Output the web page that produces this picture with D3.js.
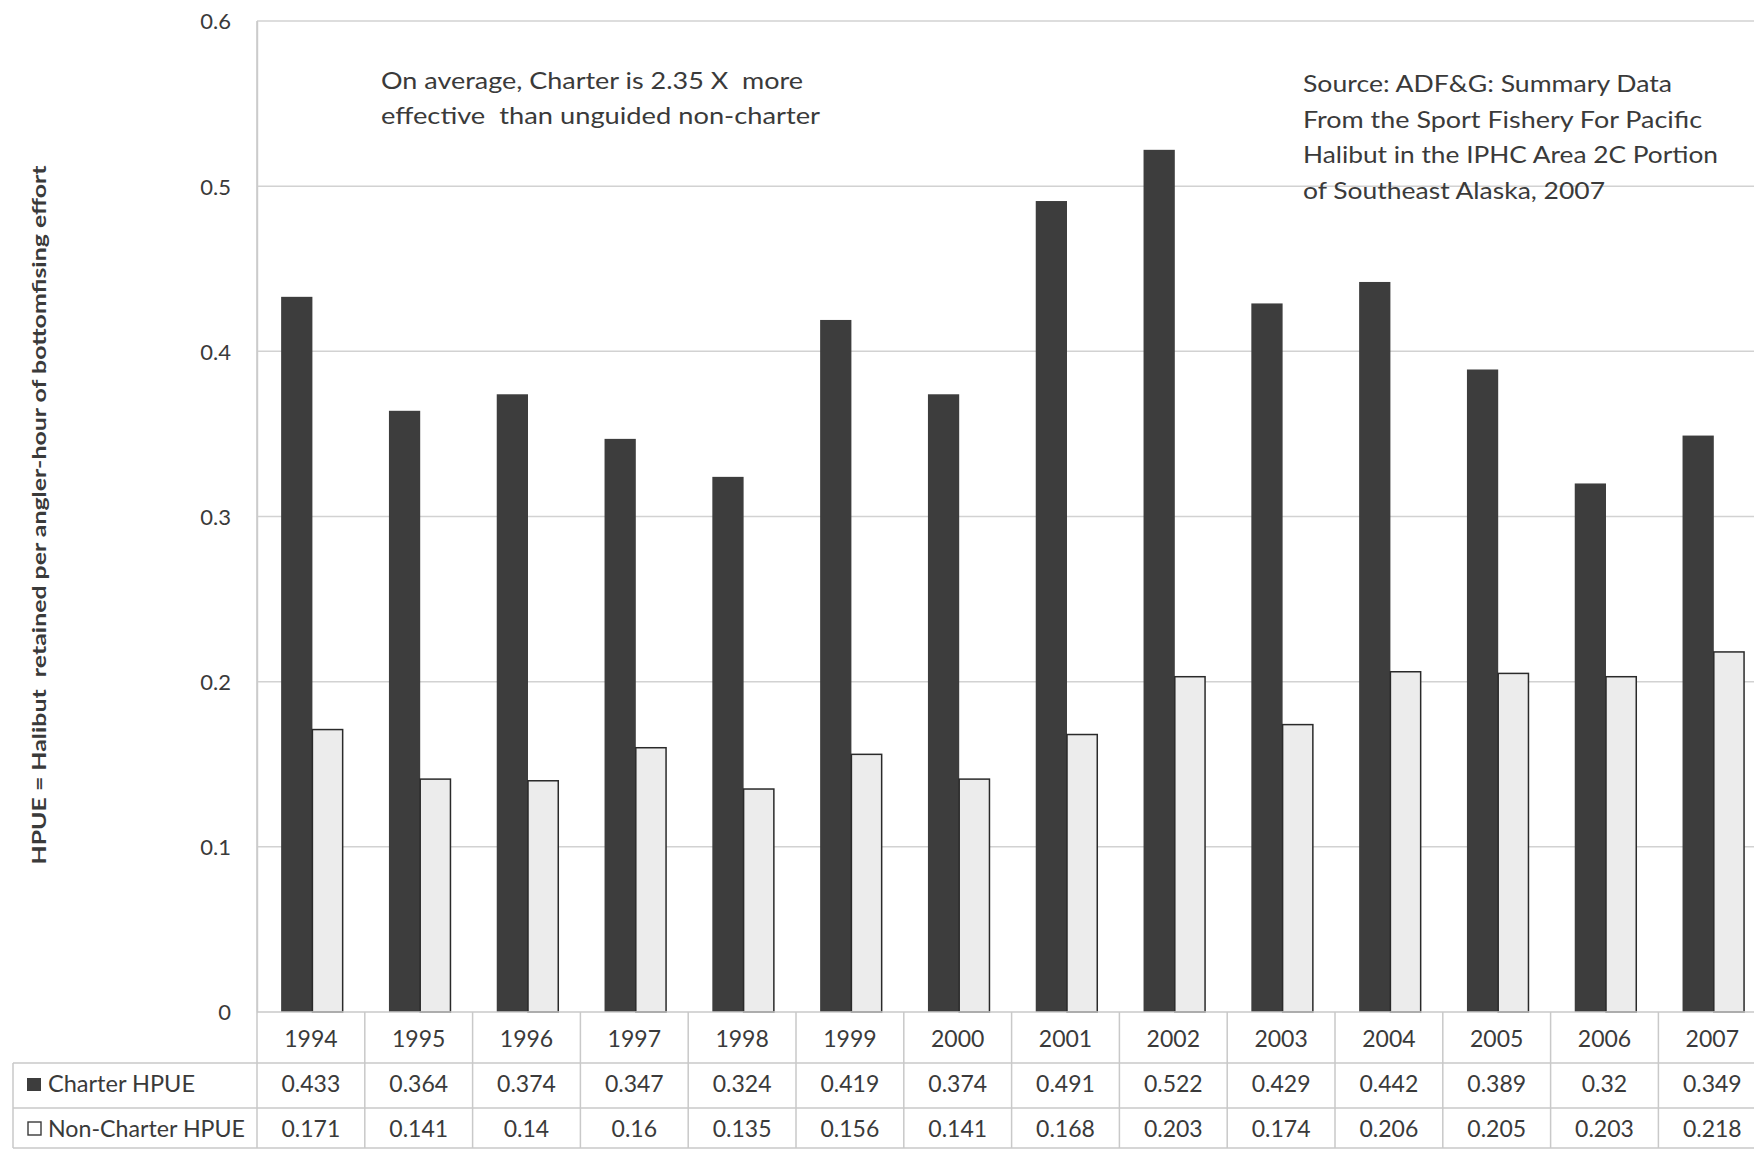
<!DOCTYPE html>
<html>
<head>
<meta charset="utf-8">
<script src="https://cdn.jsdelivr.net/npm/d3@7"></script>
<style>
  html, body { margin: 0; padding: 0; background: #ffffff; }
  svg { display: block; }
  text { font-family: Lato, "Open Sans", "Noto Sans", sans-serif; fill: #3a3a3a; white-space: pre; }
</style>
</head>
<body>
<svg id="chart" width="1754" height="1150"></svg>
<script>
// ---------------- data ----------------
const years = ["1994","1995","1996","1997","1998","1999","2000","2001","2002","2003","2004","2005","2006","2007"];
const charterHPUE = [0.433,0.364,0.374,0.347,0.324,0.419,0.374,0.491,0.522,0.429,0.442,0.389,0.32,0.349];
const nonCharterHPUE = [0.171,0.141,0.14,0.16,0.135,0.156,0.141,0.168,0.203,0.174,0.206,0.205,0.203,0.218];
const seriesNames = ["Charter HPUE","Non-Charter HPUE"];
const yTickValues = [0,0.1,0.2,0.3,0.4,0.5,0.6];
const yTickLabels = ["0","0.1","0.2","0.3","0.4","0.5","0.6"];
const yAxisTitle = "HPUE = Halibut  retained per angler-hour of bottomfising effort";
const noteLines = ["On average, Charter is 2.35 X  more","effective  than unguided non-charter"];
const sourceLines = ["Source: ADF&G: Summary Data","From the Sport Fishery For Pacific","Halibut in the IPHC Area 2C Portion","of Southeast Alaska, 2007"];

// ---------------- layout ----------------
const svg = d3.select("#chart");
const plotLeft = 257, bandW = 107.8;
const plotRight = plotLeft + bandW * years.length;
const plotTop = 21, plotBottom = 1012;
const tableLeft = 13;
const rowYear = [1012, 1063], rowCharter = [1063, 1108], rowNon = [1108, 1148];
const gridColor = "#d2d2d2", tableColor = "#c9c9c9";
const darkFill = "#3d3d3d", lightFill = "#ececec", lightStroke = "#2a2a2a";

const x = d3.scaleBand().domain(years).range([plotLeft, plotRight]).padding(0);
const groupW = x.bandwidth() * 0.58;
const x1 = d3.scaleBand().domain(seriesNames)
  .range([(x.bandwidth() - groupW) / 2 + 1.5, (x.bandwidth() + groupW) / 2 + 1.5]).padding(0);
const y = d3.scaleLinear().domain([0, 0.6]).range([plotBottom, plotTop]);

// gridlines
svg.append("g").selectAll("line").data(yTickValues.filter(v => v > 0)).join("line")
  .attr("x1", plotLeft).attr("x2", plotRight)
  .attr("y1", d => y(d)).attr("y2", d => y(d))
  .attr("stroke", gridColor).attr("stroke-width", 1.5);

// y axis (labels only)
const yAxis = d3.axisLeft(y).tickValues(yTickValues)
  .tickFormat((d, i) => yTickLabels[i]).tickSize(0).tickPadding(26);
const yg = svg.append("g").attr("transform", `translate(${plotLeft},0)`).call(yAxis);
yg.select(".domain").attr("stroke", gridColor).attr("stroke-width", 1.5);
yg.selectAll("text").style("font-size", "22px").attr("fill", "#3a3a3a")
  .style("font-family", "Lato, 'Open Sans', sans-serif").attr("dy", "0.36em");

// bars
const groups = svg.append("g").selectAll("g").data(years).join("g")
  .attr("transform", d => `translate(${x(d)},0)`);
groups.append("rect")
  .attr("x", x1(seriesNames[0])).attr("width", x1.bandwidth())
  .attr("y", (d, i) => y(charterHPUE[i])).attr("height", (d, i) => y(0) - y(charterHPUE[i]))
  .attr("fill", darkFill);
groups.append("rect")
  .attr("x", x1(seriesNames[1])).attr("width", x1.bandwidth() - 1)
  .attr("y", (d, i) => y(nonCharterHPUE[i])).attr("height", (d, i) => y(0) - y(nonCharterHPUE[i]))
  .attr("fill", lightFill).attr("stroke", lightStroke).attr("stroke-width", 1.5);

// data table lines
const tl = svg.append("g").attr("stroke", tableColor).attr("stroke-width", 1.5);
tl.append("line").attr("x1", plotLeft).attr("x2", plotRight).attr("y1", rowYear[0]).attr("y2", rowYear[0]);
[rowCharter[0], rowNon[0], rowNon[1]].forEach(yy => {
  tl.append("line").attr("x1", tableLeft).attr("x2", plotRight).attr("y1", yy).attr("y2", yy);
});
tl.append("line").attr("x1", tableLeft).attr("x2", tableLeft).attr("y1", rowCharter[0]).attr("y2", rowNon[1]);
tl.append("line").attr("x1", plotLeft).attr("x2", plotLeft).attr("y1", plotTop).attr("y2", rowNon[1]);
tl.selectAll("line.col").data(years.slice(1)).join("line").attr("class", "col")
  .attr("x1", d => x(d)).attr("x2", d => x(d)).attr("y1", rowYear[0]).attr("y2", rowNon[1]);

// table text
const tt = svg.append("g").attr("text-anchor", "middle");
tt.selectAll("text.yr").data(years).join("text").attr("class", "yr")
  .attr("x", d => x(d) + x.bandwidth() / 2).attr("y", 1047)
  .style("font-size", "23px").text(d => d);
tt.selectAll("text.ch").data(years).join("text").attr("class", "ch")
  .attr("x", d => x(d) + x.bandwidth() / 2).attr("y", 1092)
  .style("font-size", "23px").text((d, i) => String(charterHPUE[i]));
tt.selectAll("text.nc").data(years).join("text").attr("class", "nc")
  .attr("x", d => x(d) + x.bandwidth() / 2).attr("y", 1137)
  .style("font-size", "23px").text((d, i) => String(nonCharterHPUE[i]));

// legend keys in table
svg.append("rect").attr("x", 27).attr("y", 1078).attr("width", 14).attr("height", 13).attr("fill", darkFill);
svg.append("rect").attr("x", 28).attr("y", 1122).attr("width", 13).attr("height", 13)
  .attr("fill", "#ffffff").attr("stroke", "#3a3a3a").attr("stroke-width", 1.4);
svg.append("text").attr("x", 48).attr("y", 1092).style("font-size", "23px")
  .attr("textLength", 147).attr("lengthAdjust", "spacingAndGlyphs").text(seriesNames[0]);
svg.append("text").attr("x", 48).attr("y", 1137).style("font-size", "23px")
  .attr("textLength", 197).attr("lengthAdjust", "spacingAndGlyphs").text(seriesNames[1]);

// y axis title
svg.append("text").attr("transform", "translate(46,515) rotate(-90)")
  .attr("text-anchor", "middle").style("font-size", "19px").style("font-weight", "bold")
  .attr("textLength", 699).attr("lengthAdjust", "spacingAndGlyphs").text(yAxisTitle);

// annotations
const noteWidths = [422, 439];
svg.append("g").selectAll("text").data(noteLines).join("text")
  .attr("x", 381).attr("y", (d, i) => 89 + i * 35).style("font-size", "24px")
  .attr("textLength", (d, i) => noteWidths[i]).attr("lengthAdjust", "spacingAndGlyphs")
  .text(d => d);
const sourceWidths = [369, 399, 415, 302];
svg.append("g").selectAll("text").data(sourceLines).join("text")
  .attr("x", 1303).attr("y", (d, i) => 92 + i * 35.5).style("font-size", "23px")
  .attr("textLength", (d, i) => sourceWidths[i]).attr("lengthAdjust", "spacingAndGlyphs")
  .text(d => d);
</script>
</body>
</html>
